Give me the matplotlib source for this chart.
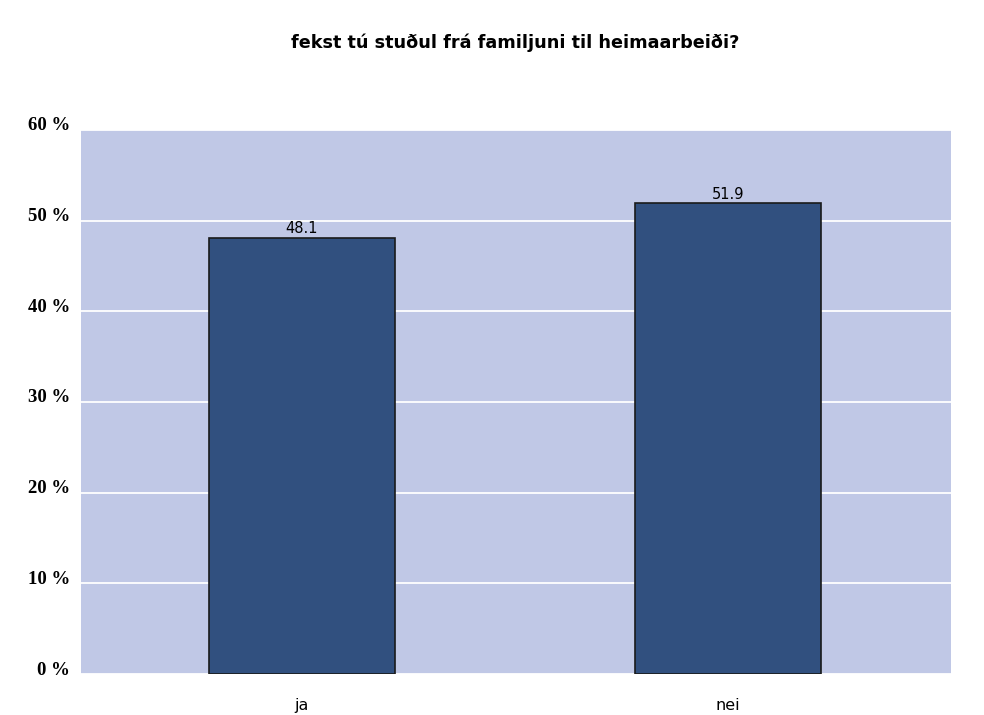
import matplotlib
matplotlib.use("Agg")
import matplotlib.pyplot as plt
import matplotlib.transforms as mtransforms
import numpy as np

categories = ["ja", "nei"]
values = [48.1, 51.9]
yticks = [0, 10, 20, 30, 40, 50, 60]
title = "fekst tú stuðul frá familjuni til heimaarbeiði?"

fig = plt.figure(figsize=(9.84, 7.15), dpi=100)
ax = fig.add_axes([0.0823, 0.0573, 0.884, 0.761])
ax.set_facecolor("#C0C8E6")

x = np.arange(len(categories))
bars = ax.bar(x, values, width=0.436, color="#31507F", edgecolor="#1a1a1a", linewidth=1.2, zorder=3)
for b, v in zip(bars, values):
    ax.text(b.get_x() + b.get_width() / 2, v + 0.2, f"{v:.1f}", ha="center", va="bottom",
            fontsize=10.5, family="DejaVu Sans", zorder=4)

ax.set_xlim(-0.518, 1.522)
ax.set_ylim(0, 60)
ax.set_yticks(yticks)
ax.set_yticklabels([f"{t} %" for t in yticks], family="Liberation Serif", fontweight="bold", fontsize=13.5)
ax.set_xticks(x)
ax.set_xticklabels(categories, fontsize=11.5, family="DejaVu Sans")
ax.tick_params(axis="y", length=0, pad=8)
ax.tick_params(axis="x", length=0, pad=17)
ax.yaxis.grid(True, color="white", linewidth=1.3, zorder=1)
ax.set_axisbelow(True)
for s in ax.spines.values():
    s.set_visible(False)

# y labels in the original sit a little above their gridlines
shift = mtransforms.ScaledTranslation(0, 6 / 100, fig.dpi_scale_trans)
for lbl in ax.get_yticklabels():
    lbl.set_transform(lbl.get_transform() + shift)

fig.text(0.524, 0.94, title, ha="center", va="center", fontsize=12.7, fontweight="bold",
         family="DejaVu Sans")

fig.savefig("out.png", dpi=100)
